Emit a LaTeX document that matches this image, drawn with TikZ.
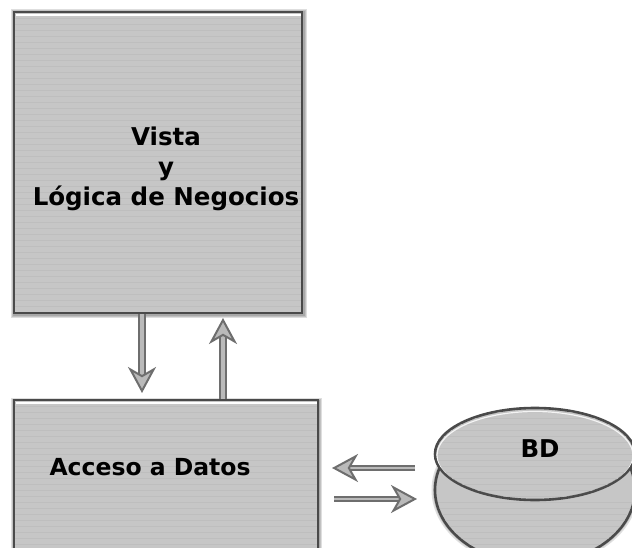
\documentclass[tikz,border=0pt]{standalone}
\usepackage{fontspec}
\setmainfont{DejaVu Sans}
\usetikzlibrary{arrows.meta,shapes.geometric}
\definecolor{boxfill}{HTML}{C6C6C6}
\definecolor{stripe}{HTML}{BEBEBE}
\definecolor{edgegray}{HTML}{4A4A4A}
\definecolor{arrowgray}{HTML}{6E6E6E}
\definecolor{shaftin}{HTML}{BABABA}
\tikzset{
  blockbox/.style={rectangle,draw=none,fill=boxfill,inner sep=0pt,outer sep=0pt},
  label text/.style={font=\bfseries\fontsize{24.5}{30}\selectfont,text=black,align=center},
  softarrow/.style={line width=1.8pt,draw=arrowgray,double=shaftin,double distance=2.4pt,
     -{Stealth[length=26pt,width=28pt,inset=8pt,fill=shaftin,color=arrowgray,line width=2pt]},shorten >=1pt},
  halo/.style={draw=black,draw opacity=.13,fill=none},
  disc/.style={ellipse,draw=edgegray,line width=2.6pt,fill=boxfill,inner sep=0pt,outer sep=0pt},
}
\begin{document}
\begin{tikzpicture}[x=1pt,y=-1pt]
\useasboundingbox (0,0) rectangle (632,548);
\fill[white] (0,0) rectangle (632,548);
\begin{scope}
\clip (0,0) rectangle (632,548);
% soft shadows of the boxes
\foreach \w in {7,5,3}{
  \draw[halo,line width=\w pt] (14,13) rectangle (303,314);
  \draw[halo,line width=\w pt] (14,401) rectangle (318,560);
}
\node[blockbox,minimum width=288pt,minimum height=301pt] (vista) at (158,163) {};
\node[blockbox,minimum width=304pt,minimum height=160pt] (datos) at (166,480) {};
\foreach \y in {18,24,...,312}{\draw[stripe,line width=.6pt] (15,\y) -- (301,\y);}
\foreach \y in {406,412,...,548}{\draw[stripe,line width=.6pt] (15,\y) -- (317,\y);}
\draw[white,line width=1.6pt] (16,15) -- (301,15);
\draw[white,line width=1.6pt] (16,403) -- (317,403);
\draw[edgegray,line width=2.2pt] (14,12) rectangle (302,313);
\draw[edgegray,line width=2.2pt] (14,400) rectangle (318,560);
% database
\foreach \w in {7,4}{
  \draw[halo,line width=\w pt] (535,490) ellipse [x radius=100,y radius=74];
}
\node[disc,minimum width=200pt,minimum height=148pt] (bdlow) at (535,490) {};
\begin{scope}
\clip (535,490) ellipse [x radius=98.5,y radius=72.5];
\foreach \y in {502,508,...,548}{\draw[stripe,line width=.6pt] (436,\y) -- (632,\y);}
\end{scope}
\node[disc,minimum width=200pt,minimum height=92pt] (bdtop) at (535,454) {};
\begin{scope}
\clip (535,454) ellipse [x radius=98.7,y radius=44.7];
\foreach \y in {412,418,...,500}{\draw[stripe,line width=.6pt] (436,\y) -- (632,\y);}
\draw[white!80!boxfill,line width=1.2pt] (535,455.5) ellipse [x radius=98,y radius=44];
\end{scope}
\end{scope}
% text
\node[label text] (vistatxt) at (166,169) {Vista\\y\hspace*{10pt}\\Lógica de Negocios};
\node[label text,anchor=west,font=\bfseries\fontsize{23.5}{30}\selectfont] (datostxt) at (46,467) {Acceso a Datos};
\node[label text] (bdtxt) at (540,449) {BD};
% connector ends
\coordinate (a1s) at (142,314);
\coordinate (a1e) at (142,394);
\coordinate (a2s) at (223,399);
\coordinate (a2e) at (223,317);
\coordinate (a3s) at (415,468);
\coordinate (a3e) at (331,468);
\coordinate (a4s) at (334,499);
\coordinate (a4e) at (418,499);
\draw[softarrow,double distance=4pt] (a1s) -- (a1e);
\draw[softarrow,double distance=4pt] (a2s) -- (a2e);
\draw[softarrow] (a3s) -- (a3e);
\draw[softarrow] (a4s) -- (a4e);
\end{tikzpicture}
\end{document}
